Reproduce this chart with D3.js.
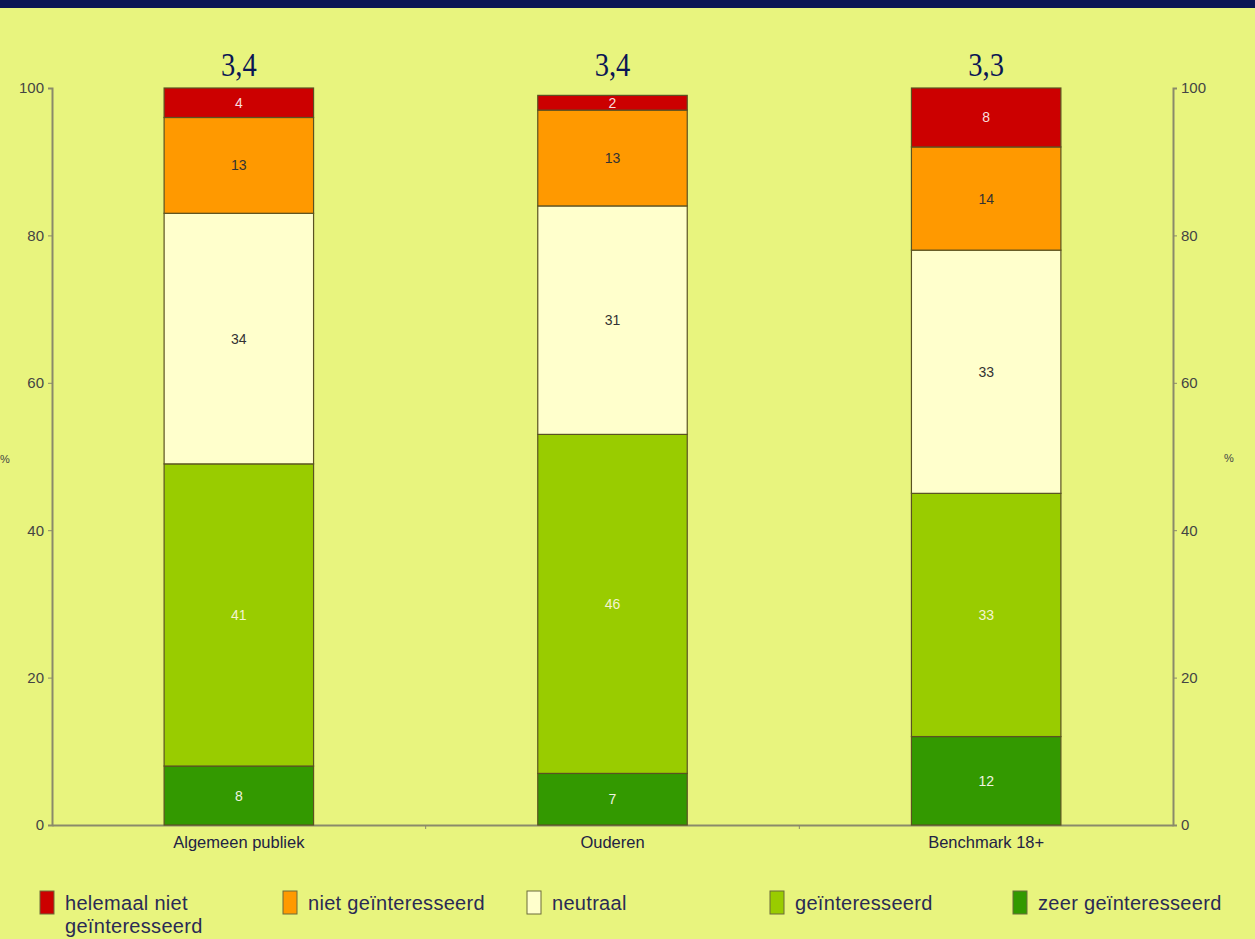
<!DOCTYPE html>
<html>
<head>
<meta charset="utf-8">
<script src="https://cdn.jsdelivr.net/npm/d3@7"></script>
<style>
  html, body { margin: 0; padding: 0; background: #e8f47e; }
  svg { display: block; }
</style>
</head>
<body>
<svg id="chart" width="1255" height="939"></svg>
<script>
// Interest levels per group (percent), stacked from bottom to top
const categories = ["Algemeen publiek", "Ouderen", "Benchmark 18+"];
const seriesNames = ["zeer geïnteresseerd", "geïnteresseerd", "neutraal", "niet geïnteresseerd", "helemaal niet geïnteresseerd"];
const zeerGeinteresseerd = [8, 7, 12];
const geinteresseerd = [41, 46, 33];
const neutraal = [34, 31, 33];
const nietGeinteresseerd = [13, 13, 14];
const helemaalNiet = [4, 2, 8];
const averages = ["3,4", "3,4", "3,3"];
const yTicks = [0, 20, 40, 60, 80, 100];
const legendOrder = ["helemaal niet geïnteresseerd", "niet geïnteresseerd", "neutraal", "geïnteresseerd", "zeer geïnteresseerd"];

const colors = {
  "zeer geïnteresseerd": "#339900",
  "geïnteresseerd": "#99cc00",
  "neutraal": "#ffffcc",
  "niet geïnteresseerd": "#ff9900",
  "helemaal niet geïnteresseerd": "#cc0000"
};
const labelColors = {
  "zeer geïnteresseerd": "#f0f4e0",
  "geïnteresseerd": "#f4f4d0",
  "neutraal": "#333333",
  "niet geïnteresseerd": "#333333",
  "helemaal niet geïnteresseerd": "#f8dede"
};

const seriesValues = [zeerGeinteresseerd, geinteresseerd, neutraal, nietGeinteresseerd, helemaalNiet];
const table = categories.map((c, i) => {
  const row = { category: c };
  seriesNames.forEach((s, j) => row[s] = seriesValues[j][i]);
  return row;
});

const svg = d3.select("#chart");
const W = 1255, H = 939;

svg.append("rect").attr("width", W).attr("height", H).attr("fill", "#e8f47e");
svg.append("rect").attr("width", W).attr("height", 8).attr("fill", "#0b1654");

const plotLeft = 52, plotRight = 1173, plotTop = 88, plotBottom = 825;

const x = d3.scaleBand().domain(categories).range([plotLeft, plotRight]).paddingInner(0.6).paddingOuter(0.3);
const xGroup = d3.scaleBand().domain(categories).range([plotLeft, plotRight]);
const y = d3.scaleLinear().domain([0, 100]).range([plotBottom, plotTop]);

const stack = d3.stack().keys(seriesNames);
const layers = stack(table);

const font = "Liberation Sans, Arial, sans-serif";

// Axes
const axisColor = "#8a8a6a";
const leftAxis = svg.append("g").attr("transform", `translate(${plotLeft},0)`)
  .call(d3.axisLeft(y).tickValues(yTicks).tickSize(4).tickPadding(4));
const rightAxis = svg.append("g").attr("transform", `translate(${plotRight},0)`)
  .call(d3.axisRight(y).tickValues(yTicks).tickSize(4).tickPadding(4));
[leftAxis, rightAxis].forEach(g => {
  g.select(".domain").attr("stroke", axisColor).attr("stroke-width", 2);
  g.selectAll(".tick line").attr("stroke", axisColor);
  g.selectAll(".tick text").attr("fill", "#444444").style("font-family", font).style("font-size", "15px");
});

const bottomAxis = svg.append("g").attr("transform", `translate(0,${plotBottom})`)
  .call(d3.axisBottom(xGroup).tickSize(0).tickPadding(11));
bottomAxis.select(".domain").attr("stroke", axisColor).attr("stroke-width", 2);
bottomAxis.selectAll(".tick text").attr("fill", "#222244").style("font-family", font).style("font-size", "16.5px");
// separators between groups
svg.append("g").selectAll("line").data(categories.slice(1)).join("line")
  .attr("x1", d => xGroup(d)).attr("x2", d => xGroup(d))
  .attr("y1", plotBottom).attr("y2", plotBottom + 4)
  .attr("stroke", axisColor);

// % axis titles
svg.append("text").attr("x", 0).attr("y", 463).text("%")
  .attr("fill", "#444").style("font-family", font).style("font-size", "11px");
svg.append("text").attr("x", 1224).attr("y", 462).text("%")
  .attr("fill", "#444").style("font-family", font).style("font-size", "11px");

// Bars
const layerG = svg.append("g").selectAll("g").data(layers).join("g")
  .attr("fill", d => colors[d.key]);
layerG.selectAll("rect").data(d => d.map(v => ({ key: d.key, v }))).join("rect")
  .attr("x", d => x(d.v.data.category))
  .attr("width", x.bandwidth())
  .attr("y", d => y(d.v[1]))
  .attr("height", d => y(d.v[0]) - y(d.v[1]))
  .attr("stroke", "#5a5222")
  .attr("stroke-width", 1.2);

// Segment labels
const labelG = svg.append("g").selectAll("g").data(layers).join("g");
labelG.selectAll("text").data(d => d.map(v => ({ key: d.key, v }))).join("text")
  .attr("x", d => x(d.v.data.category) + x.bandwidth() / 2)
  .attr("y", d => y((d.v[0] + d.v[1]) / 2) + 5)
  .attr("text-anchor", "middle")
  .attr("fill", d => labelColors[d.key])
  .style("font-family", font).style("font-size", "14px")
  .text(d => d.v.data[d.key]);

// Average scores above bars (narrow serif)
svg.append("g").selectAll("text").data(categories).join("text")
  .attr("transform", d => `translate(${x(d) + x.bandwidth() / 2},76) scale(0.84,1)`)
  .attr("text-anchor", "middle")
  .attr("fill", "#0b1654")
  .style("font-family", "Liberation Serif, DejaVu Serif, serif")
  .style("font-size", "34px")
  .text((d, i) => averages[i]);

// Legend
const legendX = [40, 283, 527, 770, 1013];
const legend = svg.append("g").selectAll("g").data(legendOrder).join("g")
  .attr("transform", (d, i) => `translate(${legendX[i]},891)`);
legend.append("rect")
  .attr("width", 14).attr("height", 23)
  .attr("fill", d => colors[d])
  .attr("stroke", "#6b6b3a").attr("stroke-width", 1);
legend.append("text")
  .attr("x", 25).attr("y", 19)
  .attr("fill", "#2a2a55")
  .style("font-family", font).style("font-size", "20px").style("letter-spacing", "0.3px")
  .each(function(d) {
    const t = d3.select(this);
    const lines = d === "helemaal niet geïnteresseerd" ? ["helemaal niet", "geïnteresseerd"] : [d];
    lines.forEach((ln, i) => t.append("tspan").attr("x", 25).attr("dy", i ? 23 : 0).text(ln));
  });
</script>
</body>
</html>
